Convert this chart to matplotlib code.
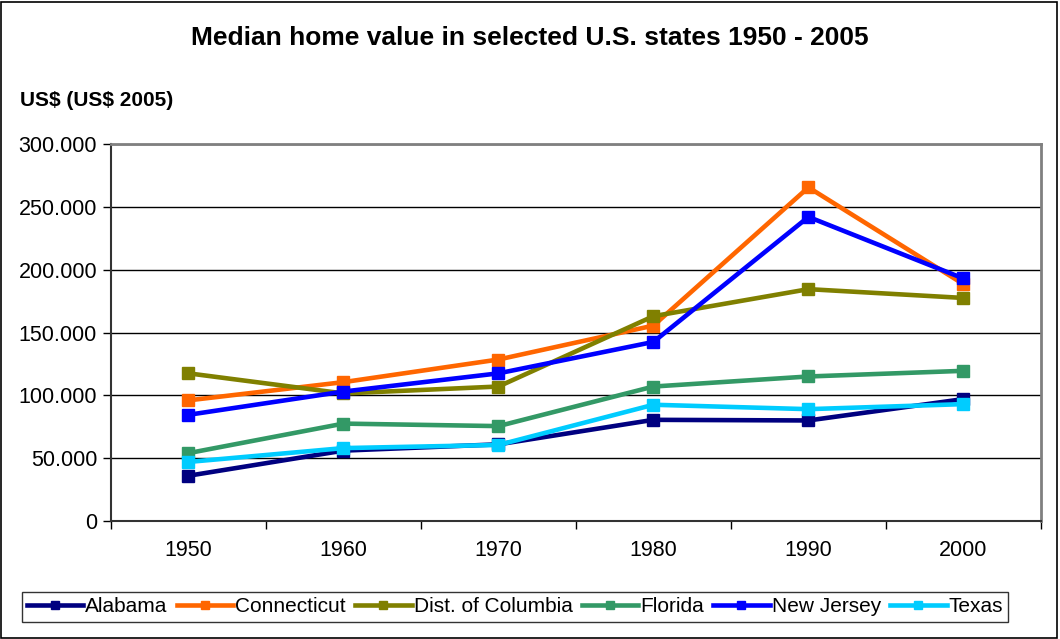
import numpy as np
import matplotlib.pyplot as plt
from matplotlib.patches import Rectangle
from matplotlib.ticker import FuncFormatter, FixedLocator

plt.rcParams['font.family'] = ['Liberation Sans', 'DejaVu Sans']

years = ['1950', '1960', '1970', '1980', '1990', '2000']
states = ['Alabama', 'Connecticut', 'Dist. of Columbia', 'Florida', 'New Jersey', 'Texas']

alabama = [36000, 56000, 61000, 80500, 80000, 97000]
connecticut = [96000, 110500, 128500, 155500, 265500, 188500]
dist_columbia = [117500, 101500, 107000, 163000, 184500, 177500]
florida = [54000, 77500, 75500, 107000, 115000, 119500]
new_jersey = [84500, 103000, 117500, 142500, 242000, 193000]
texas = [47000, 58000, 60500, 92500, 89000, 93000]

series = [alabama, connecticut, dist_columbia, florida, new_jersey, texas]
colors = ['#000080', '#FF6600', '#808000', '#339966', '#0000FF', '#00CCFF']

fig = plt.figure(figsize=(10.6, 6.39), dpi=100)
fig.patches.append(Rectangle((0.001, 0.002), 0.996, 0.995, transform=fig.transFigure,
                             fill=False, edgecolor='black', lw=1.2))

ax = fig.add_axes([0.1047, 0.1847, 0.8773, 0.5899])
x = np.arange(len(years))
for vals, name, c in zip(series, states, colors):
    ax.plot(x, vals, color=c, lw=3.3, marker='s', markersize=8, label=name, zorder=3)

ax.set_xlim(-0.5, len(years) - 0.5)
ax.set_ylim(0, 300000)
ax.set_yticks(np.arange(0, 300001, 50000))
ax.yaxis.set_major_formatter(FuncFormatter(
    lambda v, p: '0' if v == 0 else '{:,.0f}'.format(v).replace(',', '.')))
ax.set_xticks(x)
ax.set_xticklabels(years)
ax.xaxis.set_minor_locator(FixedLocator(np.arange(-0.5, len(years), 1)))
ax.tick_params(axis='x', which='major', length=0, pad=14, labelsize=15.5)
ax.tick_params(axis='x', which='minor', length=6, width=1, direction='out')
ax.tick_params(axis='y', length=6, width=1, direction='out', labelsize=15.5, pad=4)
ax.grid(axis='y', color='black', lw=1)
ax.set_axisbelow(True)
for s in ['top', 'right']:
    ax.spines[s].set_color('#808080')
    ax.spines[s].set_linewidth(2)
for s in ['left', 'bottom']:
    ax.spines[s].set_color('#333333')
    ax.spines[s].set_linewidth(1.5)

fig.text(0.5, 1 - 38 / 639, 'Median home value in selected U.S. states 1950 - 2005',
         ha='center', va='center', fontsize=19, fontweight='bold')
fig.text(20 / 1060, 1 - 100 / 639, r'US\$ (US\$ 2005)', ha='left', va='center',
         fontsize=15, fontweight='bold')

leg = fig.legend(loc='center', bbox_to_anchor=(515 / 1060, 1 - 607 / 639), ncol=6,
                 fontsize=15, frameon=True, fancybox=False, edgecolor='black',
                 handlelength=2.7, handletextpad=0.1, columnspacing=0.45,
                 borderpad=0.25, markerscale=0.8)
leg.get_frame().set_linewidth(1)

fig.savefig('out.png', dpi=100)
